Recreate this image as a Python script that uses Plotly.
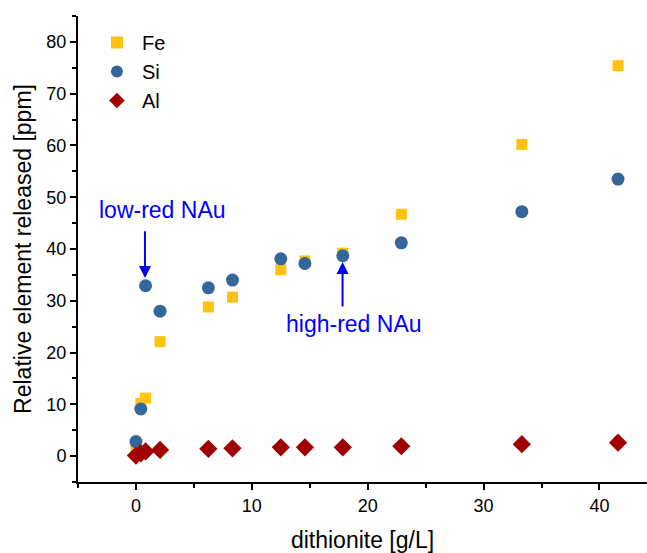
import plotly.graph_objects as go

# Data
dithionite = [0.0, 0.42, 0.83, 2.08, 6.25, 8.33, 12.5, 14.58, 17.85, 22.9, 33.3, 41.6]
fe = [1.2, 10.2, 11.2, 22.1, 28.8, 30.7, 36.0, 37.7, 39.2, 46.7, 60.2, 75.4]
si = [2.8, 9.1, 32.9, 28.0, 32.5, 34.0, 38.1, 37.2, 38.7, 41.2, 47.2, 53.5]
al = [0.1, 0.5, 0.9, 1.2, 1.4, 1.5, 1.7, 1.7, 1.7, 1.9, 2.3, 2.6]

x_ticks = [0, 10, 20, 30, 40]
y_ticks = [0, 10, 20, 30, 40, 50, 60, 70, 80]

FONT = "Liberation Sans, Arial, sans-serif"

fig = go.Figure()
fig.add_trace(go.Scatter(x=dithionite, y=fe, mode="markers", name="Fe",
                         marker=dict(symbol="square", size=11, color="#FFC20E")))
fig.add_trace(go.Scatter(x=dithionite, y=si, mode="markers", name="Si",
                         marker=dict(symbol="circle", size=13, color="#336699")))
fig.add_trace(go.Scatter(x=dithionite, y=al, mode="markers", name="Al",
                         marker=dict(symbol="diamond", size=14, color="#A00000")))

# annotations
fig.add_annotation(x=0.78, y=34.4, ax=0.78, ay=43.7, xref="x", yref="y", axref="x", ayref="y",
                   text="", showarrow=True, arrowhead=2, arrowsize=1.2, arrowwidth=2, arrowcolor="#0000FF")
fig.add_annotation(x=2.3, y=47.6, xref="x", yref="y", text="low-red NAu", showarrow=False,
                   font=dict(family=FONT, size=23, color="#0000FF"))
fig.add_annotation(x=17.83, y=37.5, ax=17.83, ay=28.6, xref="x", yref="y", axref="x", ayref="y",
                   text="", showarrow=True, arrowhead=2, arrowsize=1.2, arrowwidth=2, arrowcolor="#0000FF")
fig.add_annotation(x=18.85, y=25.5, xref="x", yref="y", text="high-red NAu", showarrow=False,
                   font=dict(family=FONT, size=23, color="#0000FF"))

axis_common = dict(showgrid=False, zeroline=False, showline=True, linecolor="black", linewidth=2,
                   ticks="outside", ticklen=6, tickwidth=1.5, tickcolor="black",
                   tickfont=dict(family=FONT, size=18, color="black"))

fig.update_layout(
    width=647, height=553,
    margin=dict(l=78, r=0, t=16, b=71),
    paper_bgcolor="white", plot_bgcolor="white",
    font=dict(family=FONT, color="black"),
    xaxis=dict(range=[-5, 44.1], tickvals=x_ticks,
               minor=dict(dtick=5, tick0=0, ticks="outside", ticklen=4, tickwidth=1.5, tickcolor="black"),
               title=dict(text="dithionite [g/L]", font=dict(family=FONT, size=23), standoff=18),
               **axis_common),
    yaxis=dict(range=[-5, 85], tickvals=y_ticks,
               minor=dict(dtick=5, tick0=0, ticks="outside", ticklen=4, tickwidth=1.5, tickcolor="black"),
               title=dict(text="Relative element released [ppm]", font=dict(family=FONT, size=23), standoff=8),
               **axis_common),
    legend=dict(x=0.0245, y=0.985, xanchor="left", yanchor="top", bgcolor="rgba(0,0,0,0)",
                font=dict(family=FONT, size=20), itemsizing="constant", tracegroupgap=0,
                itemwidth=40),
    showlegend=True,
)

fig.write_html("out.html")
